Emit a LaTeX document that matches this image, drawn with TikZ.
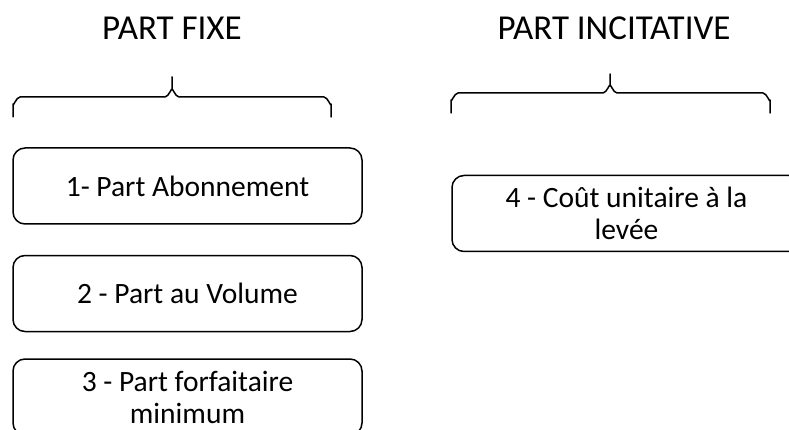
\documentclass[tikz,border=0pt]{standalone}
\usepackage{fontspec}
\setmainfont{Carlito}
\begin{document}
\begin{tikzpicture}[x=1pt,y=-1pt,line join=round,line cap=round,
	title/.style={anchor=base,font=\fontsize{35}{40}\selectfont},
	part/.style={draw,line width=1.5pt,rounded corners=12pt,minimum width=349pt,minimum height=76pt,
		align=center,inner sep=0pt,font=\fontsize{29.5}{32}\selectfont},
	accolade/.style={line width=1.5pt}]
	\useasboundingbox (0,0) rectangle (789,430);
	\clip (0,0) rectangle (789,430);
	% titres
	\node[title] (fixe) at (172,40) {PART FIXE};
	\node[title] (incit) at (614,40) {PART INCITATIVE};
	% accolades
	\draw[accolade] (13,117)--(13,104) to[out=-90,in=180] (20,97)--(165,97) to[out=0,in=90] (172,90)--(172,77)
		(172,90) to[out=90,in=180] (179,97)--(324,97) to[out=0,in=-90] (331,104)--(331,117);
	\draw[accolade] (451,113)--(451,100) to[out=-90,in=180] (458,93)--(603,93) to[out=0,in=90] (610,86)--(610,74)
		(610,86) to[out=90,in=180] (617,93)--(763,93) to[out=0,in=-90] (770,100)--(770,113);
	% boites
	\node[part] (abo) at (187.5,186) {1- Part Abonnement};
	\node[part] (vol) at (187.5,293.5) {2 - Part au Volume};
	\node[part] (forf) at (187.5,397) {3 - Part forfaitaire\\minimum};
	\node[part] (levee) at (626.5,213.5) {4 - Coût unitaire à la\\levée};
\end{tikzpicture}
\end{document}
